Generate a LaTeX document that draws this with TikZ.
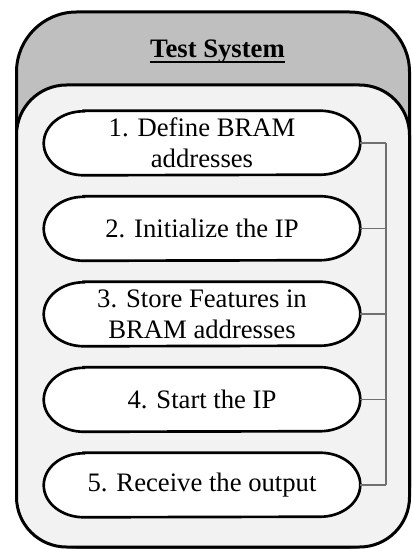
\documentclass[tikz,border=0pt]{standalone}
\usepackage{fontspec}
\setmainfont{Liberation Serif}
\usetikzlibrary{calc,backgrounds}

\definecolor{panelgray}{RGB}{191,191,191}
\definecolor{panellight}{RGB}{242,242,242}
\definecolor{linkgray}{RGB}{112,112,112}

\tikzset{
  stepnode/.style={draw=none, inner sep=0pt, align=center,
    minimum width=237pt, minimum height=48pt,
    font=\fontsize{20}{23}\selectfont},
  stepoutline/.style={draw=black, fill=white, line width=2pt},
  outerpanel/.style={draw=black, fill=panelgray, line width=2.25pt, rounded corners=45pt},
  innerpanel/.style={draw=black, fill=panellight, line width=2.25pt, rounded corners=37.5pt},
  link/.style={draw=linkgray, line width=1pt},
  titletext/.style={font=\fontsize{20}{23}\selectfont\bfseries, inner sep=0pt, anchor=base}
}

\begin{document}
\begin{tikzpicture}[x=0.75pt, y=-0.75pt]
  \useasboundingbox (0,0) rectangle (411,549);

  % process steps
  \node[stepnode] (s1) at (202,143)   {1. Define BRAM\\addresses};
  \node[stepnode] (s2) at (202,228.5) {2. Initialize the IP};
  \node[stepnode] (s3) at (202,314)   {3. Store Features in\\BRAM addresses};
  \node[stepnode] (s4) at (202,399.5) {4. Start the IP};
  \node[stepnode] (s5) at (202,485)   {5. Receive the output};

  % title with its underline
  \node[titletext] (title) at (217.5,58) {Test System};
  \draw[line width=1.1pt] ($(title.base west)+(0,-3pt)$) -- ($(title.base east)+(0,-3pt)$);

  % panels and step outlines behind the text
  \begin{pgfonlayer}{background}
    \path[outerpanel] (16.5,12) rectangle (409.5,547);
    \path[innerpanel] (16.5,85) rectangle (409.5,547);
    \foreach \n in {s1,s2,s3,s4,s5}{
      \path[stepoutline]
        ($(\n.north west)+(30pt,0)$) -- ($(\n.north east)+(-30pt,0)$)
        arc[start angle=90, end angle=-90, x radius=30pt, y radius=24pt]
        -- ($(\n.south west)+(30pt,0)$)
        arc[start angle=270, end angle=90, x radius=30pt, y radius=24pt]
        -- cycle;
    }
  \end{pgfonlayer}

  % bus on the right joining all steps
  \coordinate (busTop) at (386,143);
  \coordinate (busBot) at (386,485);
  \draw[link] (busTop) -- (busBot);
  \foreach \n in {s1,s2,s3,s4,s5}{
    \draw[link] (\n.east) -- (\n.east -| busTop);
  }
\end{tikzpicture}
\end{document}
